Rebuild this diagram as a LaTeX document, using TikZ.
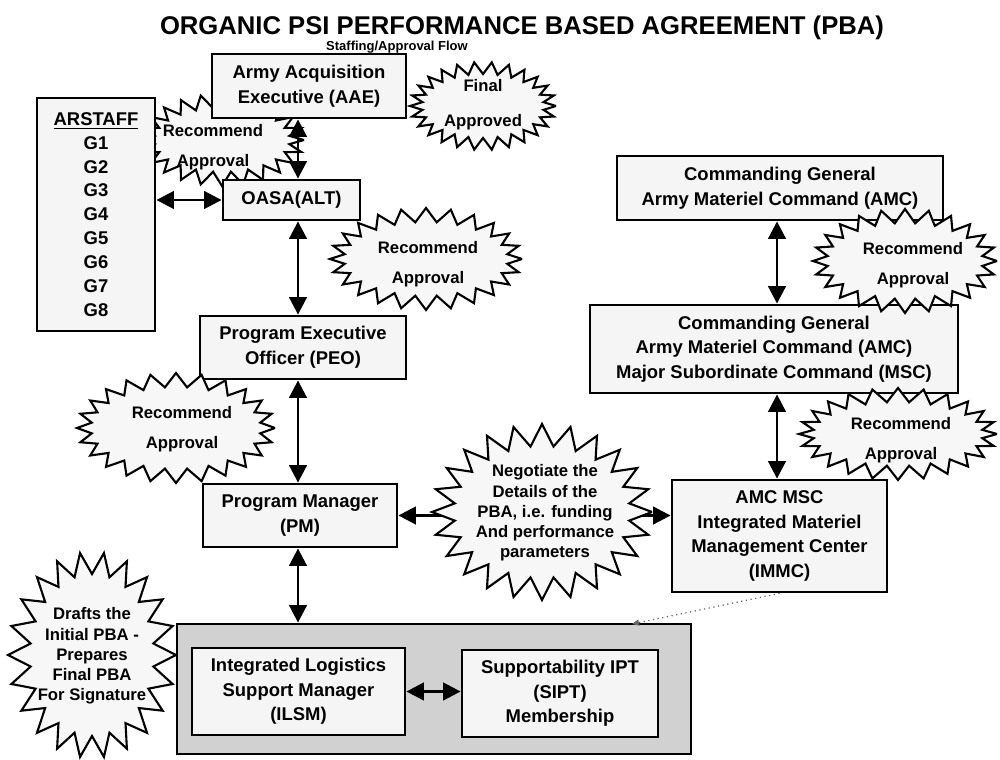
\documentclass[tikz,border=0pt]{standalone}
\usepackage{fontspec}
\setmainfont{Liberation Sans}
\usetikzlibrary{arrows.meta}
\definecolor{boxfill}{gray}{0.96}
\definecolor{iptfill}{gray}{0.82}
\definecolor{burstfill}{gray}{0.97}
\newcommand{\zigburst}[6]{%
\pgfmathtruncatemacro{\nsamp}{2*#5+1}
\draw[burst] plot[domain=0:360,samples=\nsamp]
({#1+(#3+#6*cos(#5*\x))*cos(\x)},{#2+(#4+#6*cos(#5*\x))*sin(\x)});
}
\begin{document}
\begin{tikzpicture}[x=0.02cm,y=-0.02cm,
>={Triangle[length=10pt,width=10pt]},
boxsize/.style 2 args={minimum width=#1*0.02cm,minimum height=#2*0.02cm},
box/.style={draw,line width=1.6pt,fill=boxfill,inner sep=0pt,align=center,
  font=\fontsize{10.5}{14}\selectfont\bfseries},
burst/.style={draw,line width=1.2pt,fill=burstfill,line join=miter},
burstxt/.style={align=center,inner sep=0pt,font=\fontsize{9.5}{11.5}\selectfont\bfseries},
rectxt/.style={align=center,inner sep=0pt,font=\fontsize{9.5}{17}\selectfont\bfseries},
dbl/.style={line width=1.6pt,<->},
dotlink/.style={black!60,line width=0.7pt,dotted,-{Triangle[length=4pt,width=3.5pt]}}]
\useasboundingbox (0,0) rectangle (1000,760);
\node[font=\fontsize{14.6}{16}\selectfont\bfseries] (title) at (522,28)
  {ORGANIC PSI PERFORMANCE BASED AGREEMENT (PBA)};
\node[font=\fontsize{7.4}{9}\selectfont\bfseries] (sub) at (397,47) {Staffing/Approval Flow};
\coordinate (lspine) at (298,0);
\coordinate (rspine) at (777,0);
\coordinate (dotend) at (632,624);
\zigburst{222}{140}{75}{39}{24}{7}
\node[rectxt] (recA) at (213,147) {Recommend\\Approval};
\node[box,boxsize={194}{64}] (aae) at (309,86)
  {Army Acquisition\\Executive (AAE)};
\node[box,boxsize={118}{233},font=\fontsize{10.5}{13.6}\selectfont\bfseries]
  (arstaff) at (96,214.5) {\underline{ARSTAFF}\\G1\\G2\\G3\\G4\\G5\\G6\\G7\\G8};
\node[box,boxsize={137}{40}] (oasa) at (291.5,200) {OASA(ALT)};
\node[box,boxsize={206}{63}] (peo) at (303,347.5)
  {Program Executive\\Officer (PEO)};
\node[box,boxsize={194}{63}] (pm) at (300,515.5)
  {Program Manager\\(PM)};
\node[box,boxsize={326}{64}] (cgamc) at (780,188)
  {Commanding General\\Army Materiel Command (AMC)};
\node[box,boxsize={368}{88}] (msc) at (774,349)
  {Commanding General\\Army Materiel Command (AMC)\\Major Subordinate Command (MSC)};
\node[box,boxsize={215}{112}] (immc) at (779.5,536)
  {AMC MSC\\Integrated Materiel\\Management Center\\(IMMC)};
\node[draw,line width=1.6pt,fill=iptfill,inner sep=0pt,boxsize={514}{130}] (ipt) at (434,689) {};
\node[box,boxsize={213}{87}] (ilsm) at (298.5,691.5)
  {Integrated Logistics\\Support Manager\\(ILSM)};
\node[box,boxsize={196}{87}] (sipt) at (560,693.5)
  {Supportability IPT\\(SIPT)\\Membership};
\draw[dbl] (aae.south -| lspine) -- (oasa.north -| lspine);
\draw[dbl] (oasa.west -| arstaff.east) -- (oasa.west);
\draw[dbl] (oasa.south -| lspine) -- (peo.north -| lspine);
\draw[dbl] (peo.south -| lspine) -- (pm.north -| lspine);
\draw[dbl] (pm.south -| lspine) -- (ipt.north -| lspine);
\draw[dbl] (pm.east) -- (pm.east -| immc.west);
\draw[dbl] (cgamc.south -| rspine) -- (msc.north -| rspine);
\draw[dbl] (msc.south -| rspine) -- (immc.north -| rspine);
\draw[dbl] (ilsm.east) -- (ilsm.east -| sipt.west);
\draw[dotlink] (immc.south) -- (dotend);
\zigburst{483}{106}{67}{38}{26}{6}
\node[burstxt,font=\fontsize{9.5}{20}\selectfont\bfseries] (final) at (483,105) {Final\\Approved};
\zigburst{426}{259}{89}{44}{24}{7}
\node[rectxt] (recB) at (428,264) {Recommend\\Approval};
\zigburst{176}{428}{92}{48}{24}{7}
\node[rectxt] (recC) at (182,429) {Recommend\\Approval};
\zigburst{905}{261}{85}{45}{24}{7}
\node[rectxt] (recD) at (913,265) {Recommend\\Approval};
\zigburst{898}{434}{92}{39}{24}{7}
\node[rectxt] (recE) at (901,440) {Recommend\\Approval};
\zigburst{542}{512}{99}{77}{24}{11}
\node[burstxt] (negot) at (545,513)
  {Negotiate the\\Details of the\\PBA, i.e. funding\\And performance\\parameters};
\zigburst{92}{655}{73}{92}{22}{11}
\node[burstxt] (drafts) at (92,656)
  {Drafts the\\Initial PBA -\\Prepares\\Final PBA\\For Signature};
\end{tikzpicture}
\end{document}
